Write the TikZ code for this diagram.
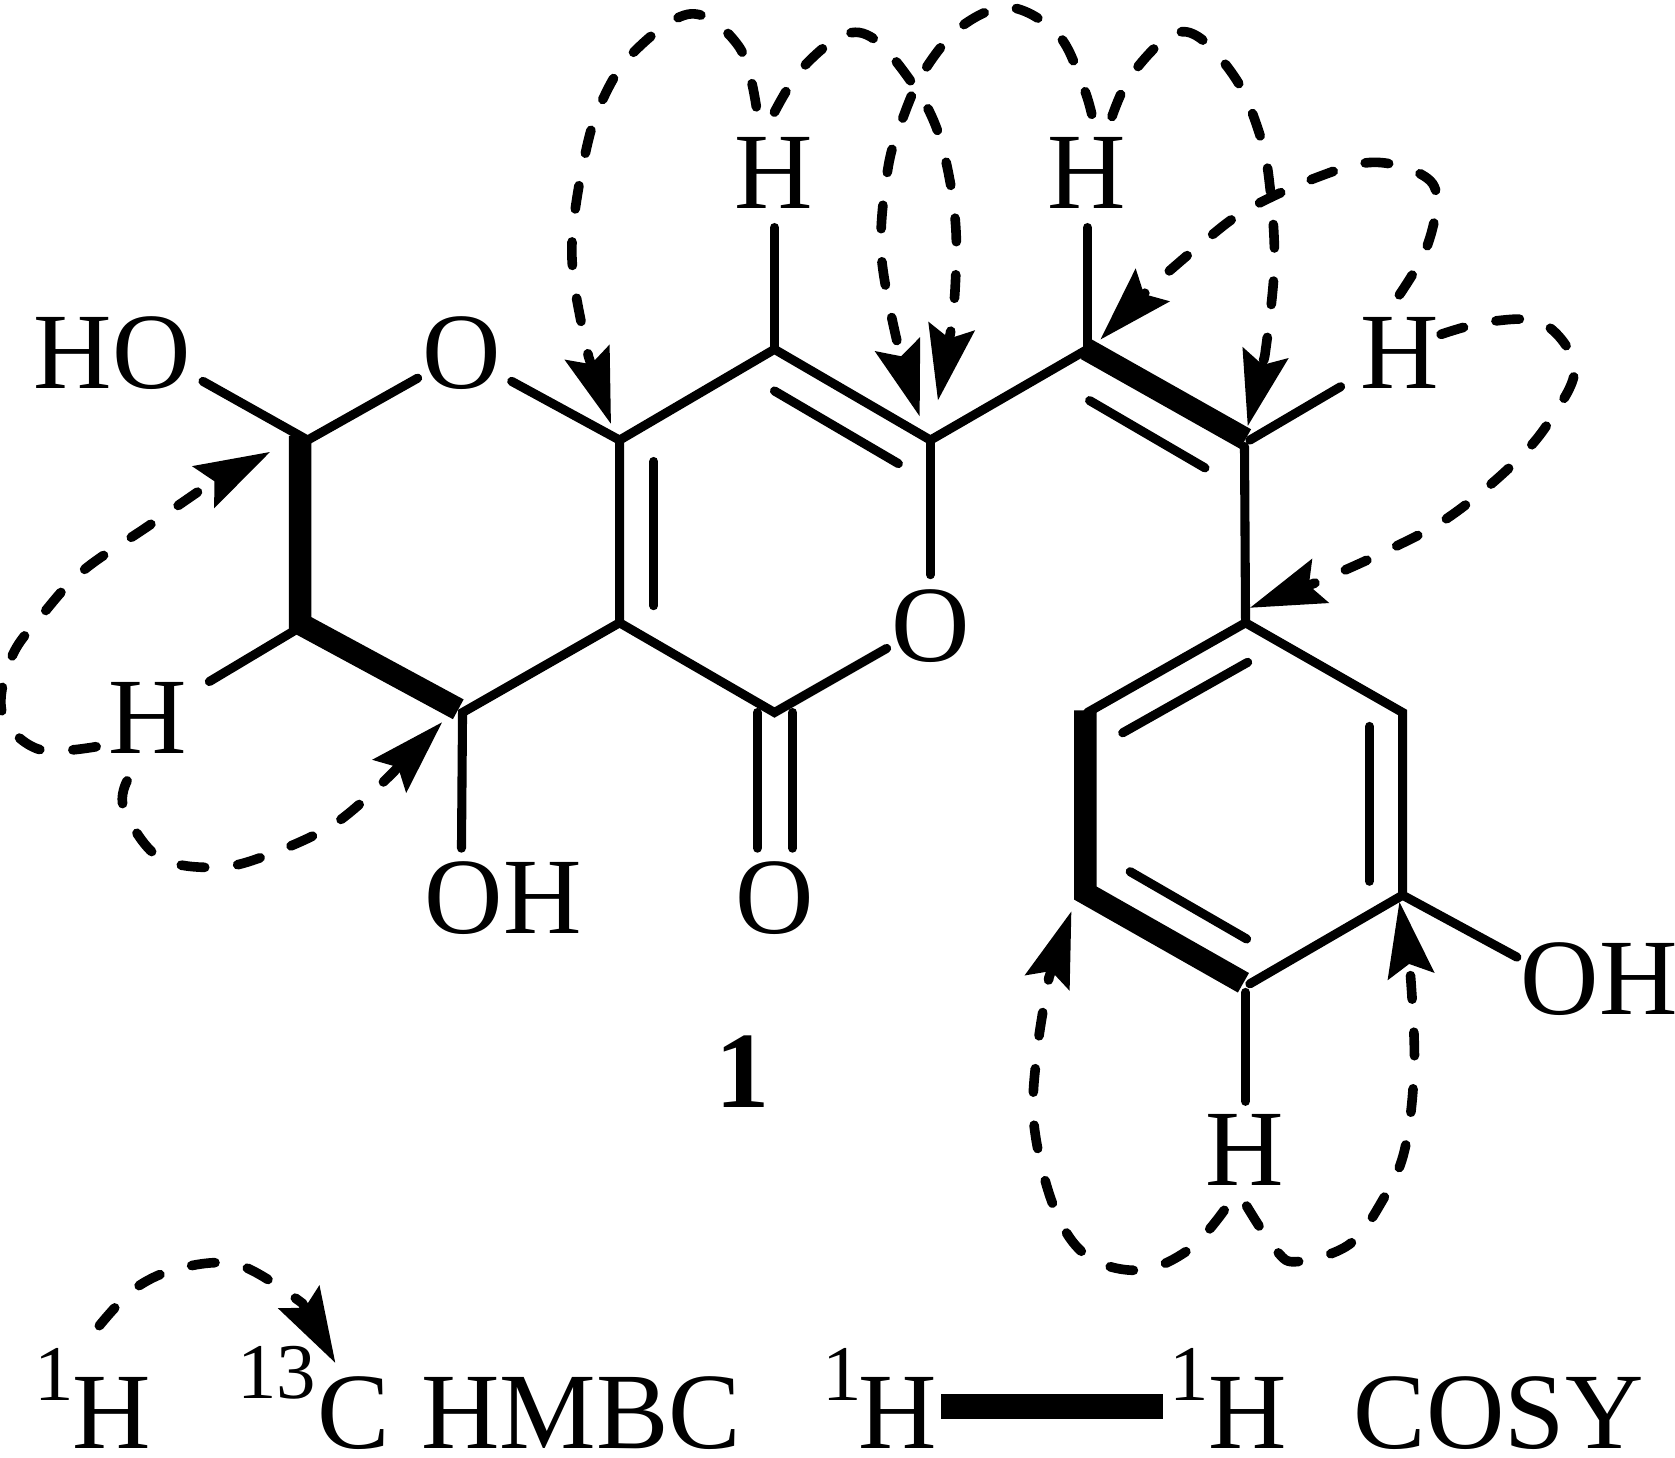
\documentclass[tikz,border=0pt]{standalone}
\usepackage{fontspec}
\setmainfont{Liberation Serif}
\usetikzlibrary{arrows.meta}
\tikzset{
  x=0.01cm,y=-0.01cm,
  atom/.style={anchor=base,inner sep=0pt,outer sep=0pt,text depth=0pt,font=\fontsize{28.9}{30}\selectfont},
  supr/.style={anchor=base,inner sep=0pt,outer sep=0pt,text depth=0pt,font=\fontsize{21}{24}\selectfont},
  bond/.style={line width=0.085cm,line cap=round,black},
  boldbond/.style={line width=0.21cm,line cap=butt,line join=miter,black},
  hmbc/.style={line width=0.09cm,line cap=round,black,dash pattern=on 0.22cm off 0.31cm,
    -{Stealth[length=0.7cm,width=0.43cm,inset=0.11cm]}},
}
\begin{document}
\begin{tikzpicture}
\useasboundingbox (0,0) rectangle (1568,1364);
% atoms
\coordinate (c2) at (288,412);
\coordinate (c3) at (288,583);
\coordinate (c4) at (433,667);
\coordinate (c4a) at (580,583);
\coordinate (c8a) at (580,412);
\coordinate (c8) at (725,327);
\coordinate (c7) at (871,412);
\coordinate (c5) at (725,667);
\coordinate (ca) at (1018,327);
\coordinate (cb) at (1166,412);
\coordinate (p1) at (1166,583);
\coordinate (p2) at (1313,667);
\coordinate (p3) at (1313,838);
\coordinate (p4) at (1166,922);
\coordinate (p5) at (1018,838);
\coordinate (p6) at (1018,667);
% labels
\node[atom] (hoa) at (105,364) {HO};
\node[atom] (o1) at (432,364) {O};
\node[atom] (h8) at (724,195) {H};
\node[atom] (ha) at (1017,195) {H};
\node[atom] (hb) at (1310,364) {H};
\node[atom] (h3) at (138,705) {H};
\node[atom] (oh4) at (471,874) {OH};
\node[atom] (oc) at (725,874) {O};
\node[atom] (o6) at (871,619) {O};
\node[atom] (oh3) at (1497,950) {OH};
\node[atom] (h5) at (1165,1110) {H};
\node[atom,font=\fontsize{28.9}{30}\selectfont\bfseries] (num) at (695,1037) {1};
% bond ends beside labels
\coordinate (e1) at (190,357);
\coordinate (e2) at (391,354);
\coordinate (e3) at (479,357);
\coordinate (e4) at (725,213);
\coordinate (e5) at (1018,213);
\coordinate (e6) at (1255,362);
\coordinate (e7) at (196,638);
\coordinate (e8) at (432,794);
\coordinate (e9a) at (709,794);
\coordinate (e9b) at (742,794);
\coordinate (e9c) at (709,667);
\coordinate (e9d) at (742,667);
\coordinate (e10) at (830,607);
\coordinate (e11) at (871,538);
\coordinate (e12) at (1420,896);
\coordinate (e13) at (1166,1031);
\coordinate (e14) at (1166,929);
\coordinate (e15) at (1170,921);
\coordinate (e16) at (1165,418);
\coordinate (e17) at (1170,412);
% single bonds
\draw[bond] (e1) -- (c2) -- (e2);
\draw[bond] (e3) -- (c8a) -- (c8) -- (c7) -- (ca);
\draw[bond] (c8a) -- (c4a) -- (c4) -- (e8);
\draw[bond] (c4a) -- (c5) -- (e10);
\draw[bond] (c7) -- (e11);
\draw[bond] (c8) -- (e4);
\draw[bond] (ca) -- (e5);
\draw[bond] (e17) -- (e6);
\draw[bond] (e16) -- (p1) -- (p2) -- (p3) -- (e15);
\draw[bond] (p1) -- (p6);
\draw[bond] (p3) -- (e12);
\draw[bond] (e14) -- (e13);
\draw[bond] (c3) -- (e7);
\draw[bond] (e9c) -- (e9a);
\draw[bond] (e9d) -- (e9b);
% inner double bonds
\coordinate (i1a) at (612,432); \coordinate (i1b) at (612,567);
\coordinate (i2a) at (725,366); \coordinate (i2b) at (841,434);
\coordinate (i3a) at (1020,375); \coordinate (i3b) at (1128,438);
\coordinate (i4a) at (1168,620); \coordinate (i4b) at (1051,686);
\coordinate (i5a) at (1282,680); \coordinate (i5b) at (1282,825);
\coordinate (i6a) at (1058,816); \coordinate (i6b) at (1167,879);
\draw[bond] (i1a) -- (i1b);
\draw[bond] (i2a) -- (i2b);
\draw[bond] (i3a) -- (i3b);
\draw[bond] (i4a) -- (i4b);
\draw[bond] (i5a) -- (i5b);
\draw[bond] (i6a) -- (i6b);
% COSY bold bonds
\draw[boldbond] (281,408) -- (281,584) -- (429,664);
\draw[boldbond] (1017,327) -- (1166,411);
\draw[boldbond] (1016,665) -- (1016,836) -- (1164,920);
% HMBC arrows
\draw[hmbc] plot[smooth,tension=0.6] coordinates {(708,100) (692,44) (647,13) (592,50) (562,98) (547,148) (536,218) (538,268) (551,334)} -- (572,397);
\draw[hmbc] plot[smooth,tension=0.6] coordinates {(725,105) (750,65) (789,33) (819,37) (854,78) (876,118) (889,168) (895,218) (894,272) (890,310)} -- (878,375);
\draw[hmbc] plot[smooth,tension=0.6] coordinates {(1022,107) (1014,81) (991,33) (946,7) (901,24) (866,65) (845,111) (831,159) (825,238) (841,325)} -- (861,390);
\draw[hmbc] plot[smooth,tension=0.6] coordinates {(1041,109) (1058,72) (1093,35) (1121,34) (1157,74) (1178,122) (1188,168) (1193,248) (1184,333)} -- (1168,399);
\draw[hmbc] plot[smooth,tension=0.6] coordinates {(1310,276) (1335,233) (1345,185) (1330,163) (1285,152) (1233,166) (1168,196) (1126,227) (1076,270)} -- (1030,318);
\draw[hmbc] plot[smooth,tension=0.6] coordinates {(1349,313) (1395,301) (1445,303) (1474,344) (1452,392) (1417,434) (1355,485) (1291,519) (1233,545)} -- (1170,569);
\draw[hmbc] plot[smooth,tension=0.6] coordinates {(90,699) (35,701) (2,667) (11,615) (40,575) (78,534) (138,493) (196,453)} -- (253,423);
\draw[hmbc] plot[smooth,tension=0.6] coordinates {(119,731) (116,757) (148,802) (201,812) (249,801) (315,770) (370,721)} -- (414,676);
\draw[hmbc] plot[smooth,tension=0.6] coordinates {(1146,1133) (1114,1169) (1068,1189) (1018,1176) (987,1131) (968,1053) (971,983) (982,915)} -- (1003,853);
\draw[hmbc] plot[smooth,tension=0.6] coordinates {(1167,1129) (1195,1171) (1215,1181) (1263,1165) (1294,1124) (1315,1076) (1324,996) (1320,908)} -- (1310,844);
% legend
\node[supr] (s1) at (51,1311) {1};
\node[atom] (l1) at (105,1356) {H};
\node[supr] (s13) at (259,1309) {13};
\node[atom] (lc) at (331,1356) {C};
\node[atom] (lh) at (544,1356) {HMBC};
\node[supr] (s2) at (788,1311) {1};
\node[atom] (l2) at (840,1356) {H};
\node[supr] (s3) at (1113,1311) {1};
\node[atom] (l3) at (1168,1356) {H};
\node[atom] (lcosy) at (1403,1356) {COSY};
\draw[hmbc] plot[smooth,tension=0.6] coordinates {(93,1241) (128,1205) (173,1186) (226,1185) (283,1220)} -- (314,1276);
\fill[black] (881,1305) rectangle (1089,1328);
\end{tikzpicture}
\end{document}
